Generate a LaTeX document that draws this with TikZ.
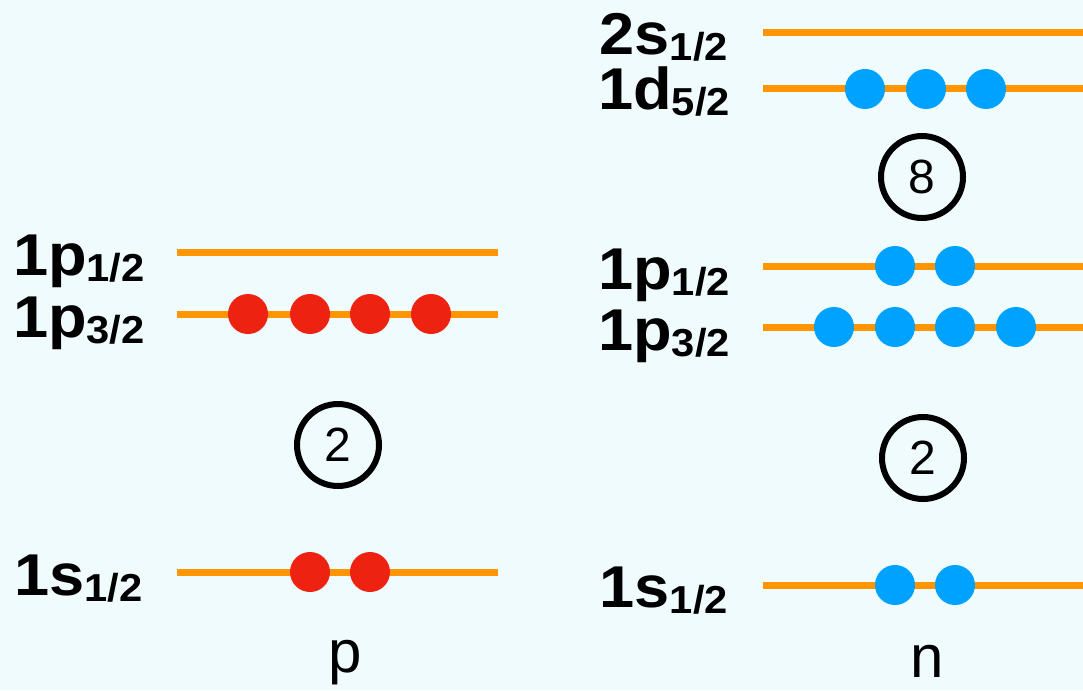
\documentclass[tikz,border=0pt]{standalone}
\usepackage{fontspec}
\setmainfont{Liberation Sans}
\newfontfamily\labfont[FakeStretch=1.07]{Liberation Sans}
\definecolor{bg}{HTML}{F0FBFE}
\definecolor{lvl}{HTML}{FF9500}
\definecolor{prot}{HTML}{EE2211}
\definecolor{neut}{HTML}{00A2FF}
\newcommand{\orb}[2]{{\labfont\bfseries\fontsize{59}{59}\selectfont #1\raisebox{-6pt}{\fontsize{39}{39}\selectfont #2}}}
\tikzset{
  level/.style={draw=lvl, line width=7pt},
  pdot/.style={circle, fill=prot, minimum size=40pt, inner sep=0pt},
  ndot/.style={circle, fill=neut, minimum size=40pt, inner sep=0pt},
  gap/.style={circle, draw=black, line width=6pt, minimum size=82pt, inner sep=0pt, font=\fontsize{48}{48}\selectfont},
  orblab/.style={anchor=base east, inner sep=0pt},
  species/.style={anchor=base, inner sep=0pt, font=\fontsize{60}{60}\selectfont}
}
\begin{document}
\begin{tikzpicture}[x=1pt,y=-1pt]
\fill[bg] (0,0) rectangle (1083,690);
\useasboundingbox (0,0) rectangle (1083,690);
% left (protons)
\coordinate (pA1) at (177,252); \coordinate (pA2) at (498,252);
\coordinate (pB1) at (177,314); \coordinate (pB2) at (498,314);
\coordinate (pC1) at (177,572); \coordinate (pC2) at (498,572);
\draw[level] (pA1) -- (pA2);
\draw[level] (pB1) -- (pB2);
\draw[level] (pC1) -- (pC2);
\node[orblab] (lpA) at (145,275) {\orb{1p}{1/2}};
\node[orblab] (lpB) at (145,337) {\orb{1p}{3/2}};
\node[orblab] (lpC) at (143,595) {\orb{1s}{1/2}};
\foreach \x [count=\i] in {248,310,370,431} \node[pdot] (pd\i) at (\x,314) {};
\node[pdot] (ps1) at (310,572) {};
\node[pdot] (ps2) at (370,572) {};
\node[gap] (pg) at (338,445) {2};
\node[species] (pl) at (345,672) {p};
% right (neutrons)
\coordinate (nA1) at (763,33); \coordinate (nA2) at (1083,33);
\coordinate (nB1) at (763,89); \coordinate (nB2) at (1083,89);
\coordinate (nC1) at (763,266); \coordinate (nC2) at (1083,266);
\coordinate (nD1) at (763,327); \coordinate (nD2) at (1083,327);
\coordinate (nE1) at (763,585); \coordinate (nE2) at (1083,585);
\draw[level] (nA1) -- (nA2);
\draw[level] (nB1) -- (nB2);
\draw[level] (nC1) -- (nC2);
\draw[level] (nD1) -- (nD2);
\draw[level] (nE1) -- (nE2);
\node[orblab] (lnA) at (728,55) {\orb{2s}{1/2}};
\node[orblab] (lnB) at (730,110) {\orb{1d}{5/2}};
\node[orblab] (lnC) at (730,289) {\orb{1p}{1/2}};
\node[orblab] (lnD) at (730,350) {\orb{1p}{3/2}};
\node[orblab] (lnE) at (728,607) {\orb{1s}{1/2}};
\foreach \x [count=\i] in {865,926,986} \node[ndot] (nd\i) at (\x,89) {};
\node[ndot] (nc1) at (895,266) {};
\node[ndot] (nc2) at (955,266) {};
\foreach \x [count=\i] in {834,895,955,1016} \node[ndot] (np\i) at (\x,327) {};
\node[ndot] (ns1) at (895,585) {};
\node[ndot] (ns2) at (955,585) {};
\node[gap] (ng8) at (922,177) {8};
\node[gap] (ng2) at (923,458) {2};
\node[species] (nl) at (927,677) {n};
\end{tikzpicture}
\end{document}
